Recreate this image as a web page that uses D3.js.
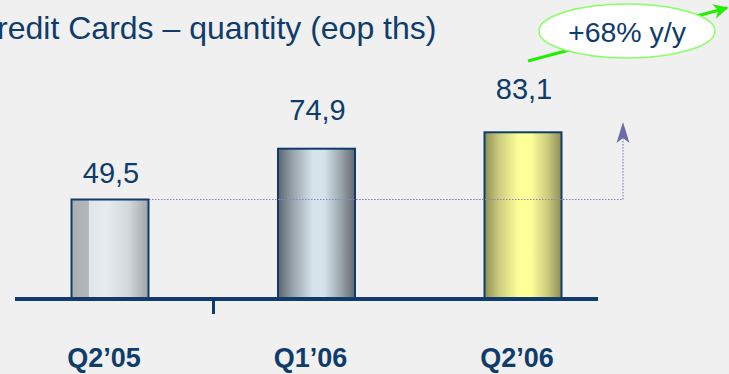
<!DOCTYPE html>
<html><head><meta charset="utf-8">
<script src="https://cdn.jsdelivr.net/npm/d3@7"></script>
<style>html,body{margin:0;padding:0;background:#f0f0f0;overflow:hidden}svg{display:block}</style>
</head><body>
<svg id="c" width="729" height="374"></svg>
<script>
const categories = ["Q2’05", "Q1’06", "Q2’06"];
const values = [49.5, 74.9, 83.1];
const valueLabels = ["49,5", "74,9", "83,1"];
const title = "Credit Cards – quantity (eop ths)";
const growthLabel = "+68% y/y";

const navy = "#0f3c6b";
const font = "Arial, Liberation Sans, sans-serif";
const svg = d3.select("#c");
const defs = svg.append("defs");

const x = d3.scalePoint().domain(categories).range([110, 523]);
const y = d3.scaleLinear().domain([0, 100]).range([298.5, 98.5]);
const yLabel = d3.scaleLinear().domain([0, 100]).range([306.75, 56.75]);
const bw = 77;

const grads = [
  [[0,"#a9adb0"],[0.22,"#b4b8bb"],[0.23,"#dfe5e9"],[0.45,"#e6ecef"],[0.75,"#d0d6da"],[1,"#9fa4a8"]],
  [[0,"#5e666e"],[0.2,"#9aa5ae"],[0.45,"#d6e3eb"],[0.6,"#d6e3eb"],[0.82,"#9aa4ac"],[1,"#62686f"]],
  [[0,"#8f8f55"],[0.2,"#cfcf80"],[0.45,"#ffff99"],[0.6,"#ffff99"],[0.82,"#cccc7c"],[1,"#8d8d55"]]
];
grads.forEach((g, i) => {
  const lg = defs.append("linearGradient").attr("id", "g" + i).attr("x1", "0").attr("x2", "1").attr("y1", "0").attr("y2", "0");
  g.forEach(s => lg.append("stop").attr("offset", s[0]).attr("stop-color", s[1]));
});
const mk = defs.append("marker").attr("id", "ah").attr("viewBox", "0 0 10 10").attr("refX", 9).attr("refY", 5)
  .attr("markerWidth", 5).attr("markerHeight", 5).attr("orient", "auto-start-reverse").attr("markerUnits", "strokeWidth");
mk.append("path").attr("d", "M0,0 L10,5 L0,10 L3,5 Z").attr("fill", "#22ee00");

// title (cut at the left edge, as in the reference)
svg.append("text").attr("x", -26).attr("y", 39).attr("font-family", font)
  .attr("font-size", 32).attr("fill", navy).text(title);

// dotted reference line + arrow
const yRef = y(values[0]);
svg.append("line").attr("x1", x(categories[0])).attr("x2", 623).attr("y1", yRef).attr("y2", yRef)
  .attr("stroke", "#8a86b8").attr("stroke-width", 1.2).attr("stroke-dasharray", "1.5,1.5");
svg.append("line").attr("x1", 623).attr("x2", 623).attr("y1", yRef).attr("y2", 136)
  .attr("stroke", "#8a86b8").attr("stroke-width", 1.2).attr("stroke-dasharray", "1.5,1.5");
svg.append("path").attr("d", "M623,122 L629.5,143 L623,138 L616.5,143 Z").attr("fill", "#6f6aa8");

// bars
svg.selectAll("rect.bar").data(values).join("rect").attr("class", "bar")
  .attr("x", (d, i) => x(categories[i]) - bw / 2).attr("width", bw)
  .attr("y", d => y(d)).attr("height", d => y(0) - y(d))
  .attr("fill", (d, i) => `url(#g${i})`).attr("stroke", navy).attr("stroke-width", 2);

// dotted line drawn over bars 2 & 3
svg.append("line").attr("x1", x(categories[1]) - bw/2).attr("x2", x(categories[2]) + bw/2).attr("y1", yRef).attr("y2", yRef)
  .attr("stroke", "#8a86b8").attr("stroke-width", 1.2).attr("stroke-dasharray", "1.5,1.5");

// value labels
svg.selectAll("text.val").data(values).join("text").attr("class", "val")
  .attr("x", (d, i) => x(categories[i]) + 1).attr("y", d => yLabel(d))
  .attr("text-anchor", "middle").attr("font-family", font)
  .attr("font-size", 29).attr("fill", navy).text((d, i) => valueLabels[i]);

// axis
svg.append("rect").attr("x", 15).attr("y", 297).attr("width", 583).attr("height", 4).attr("fill", navy);
svg.append("rect").attr("x", 212).attr("y", 300).attr("width", 3).attr("height", 14).attr("fill", navy);

// category labels
svg.selectAll("text.cat").data(categories).join("text").attr("class", "cat")
  .attr("x", d => x(d) - 6).attr("y", 367).attr("text-anchor", "middle")
  .attr("font-family", font).attr("font-weight", "bold")
  .attr("font-size", 27).attr("fill", navy).text(d => d);

// growth arrow + ellipse
svg.append("line").attr("x1", 528).attr("y1", 61).attr("x2", 727).attr("y2", 8)
  .attr("stroke", "#22ee00").attr("stroke-width", 3).attr("marker-end", "url(#ah)");
svg.append("ellipse").attr("cx", 627).attr("cy", 31).attr("rx", 88).attr("ry", 27)
  .attr("fill", "#ffffff").attr("stroke", "#88ff66").attr("stroke-width", 1.5);
svg.append("text").attr("x", 627).attr("y", 42).attr("text-anchor", "middle")
  .attr("font-family", font).attr("font-size", 28.5).attr("fill", navy).text(growthLabel);
</script>
</body></html>
